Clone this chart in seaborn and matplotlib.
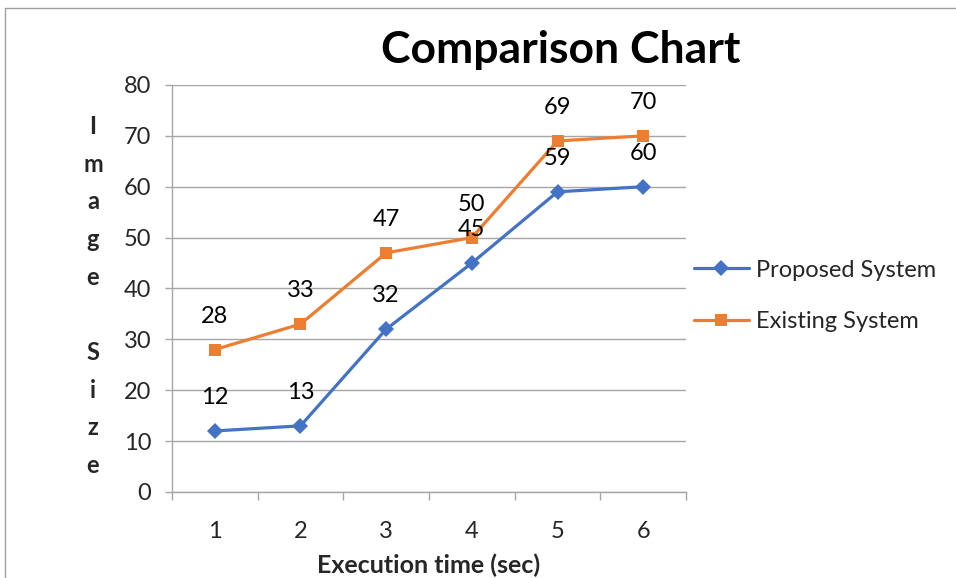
import numpy as np
import pandas as pd
import matplotlib
matplotlib.use('Agg')
import matplotlib.pyplot as plt
from matplotlib.lines import Line2D
import seaborn as sns

# data
exec_time = [1, 2, 3, 4, 5, 6]
proposed = [12, 13, 32, 45, 59, 60]
existing = [28, 33, 47, 50, 69, 70]
series_names = ['Proposed System', 'Existing System']
y_ticks = [0, 10, 20, 30, 40, 50, 60, 70, 80]

blue = '#4472C4'
orange = '#ED7D31'
grid_col = '#A6A6A6'

df = pd.DataFrame({
    'time': exec_time * 2,
    'size': proposed + existing,
    'System': [series_names[0]] * len(exec_time) + [series_names[1]] * len(exec_time),
})

sns.set_style('white')
plt.rcParams['font.family'] = ['Lato', 'DejaVu Sans']

fig = plt.figure(figsize=(9.56, 5.78), dpi=100)
ax = fig.add_axes([0.1799, 0.1488, 0.5377, 0.7042])

sns.lineplot(data=df, x='time', y='size', hue='System', style='System',
             palette={series_names[0]: blue, series_names[1]: orange},
             markers={series_names[0]: 'D', series_names[1]: 's'},
             dashes=False, linewidth=2.3, markersize=8.5, markeredgewidth=0,
             ax=ax, legend=False)

# data labels above points
for vals in (proposed, existing):
    for x, v in zip(exec_time, vals):
        ax.annotate(str(v), (x, v), xytext=(0, 24), textcoords='offset points',
                    ha='center', va='center', fontsize=17, color='black')

ax.set_xlim(0.5, 6.5)
ax.set_ylim(0, 80)
ax.set_yticks(y_ticks)
ax.yaxis.grid(True, color=grid_col, linewidth=1)
ax.set_axisbelow(True)
ax.tick_params(axis='y', which='major', length=5, width=1, color=grid_col,
               labelsize=17, pad=10, left=True)

# category boundaries as tick marks, labels at centers
ax.set_xticks(np.arange(0.5, 7.0, 1.0))
ax.set_xticklabels([])
ax.set_xticks(exec_time, minor=True)
ax.set_xticklabels([str(t) for t in exec_time], minor=True)
ax.tick_params(axis='x', which='major', length=6, width=1, color=grid_col, bottom=True)
ax.tick_params(axis='x', which='minor', length=0, labelsize=17, pad=21)

for side in ['top', 'right']:
    ax.spines[side].set_visible(False)
for side in ['left', 'bottom']:
    ax.spines[side].set_color(grid_col)
    ax.spines[side].set_linewidth(1)

ax.set_xlabel('')
ax.set_ylabel('')
fig.text(429 / 956, 1 - 565 / 578, 'Execution time (sec)', ha='center', va='center',
         fontsize=18, fontweight='bold')
fig.text(93 / 956, 1 - 296 / 578, '\n'.join('Image Size').replace(' ', ''),
         ha='center', va='center', fontsize=17, fontweight='bold', linespacing=1.77)

fig.suptitle('Comparison Chart', x=561 / 956, y=1 - 50 / 578, ha='center', va='center',
             fontsize=32, fontweight='bold', color='black')

handles = [Line2D([], [], color=blue, marker='D', lw=2.3, markersize=8.5, markeredgewidth=0),
           Line2D([], [], color=orange, marker='s', lw=2.3, markersize=8.5, markeredgewidth=0)]
fig.legend(handles, series_names, loc='center left', bbox_to_anchor=(673 / 956, 1 - 296 / 578),
           frameon=False, fontsize=17, handlelength=2.3, handletextpad=0.3, labelspacing=1.3)

# outer chart border (partially cropped in the reference)
fig.add_artist(Line2D([5 / 956, 1], [1 - 8 / 578, 1 - 8 / 578], color='#A0A0A0', lw=1,
                      transform=fig.transFigure))
fig.add_artist(Line2D([5 / 956, 5 / 956], [0, 1 - 8 / 578], color='#A0A0A0', lw=1,
                      transform=fig.transFigure))

fig.savefig('out.png', dpi=100)
